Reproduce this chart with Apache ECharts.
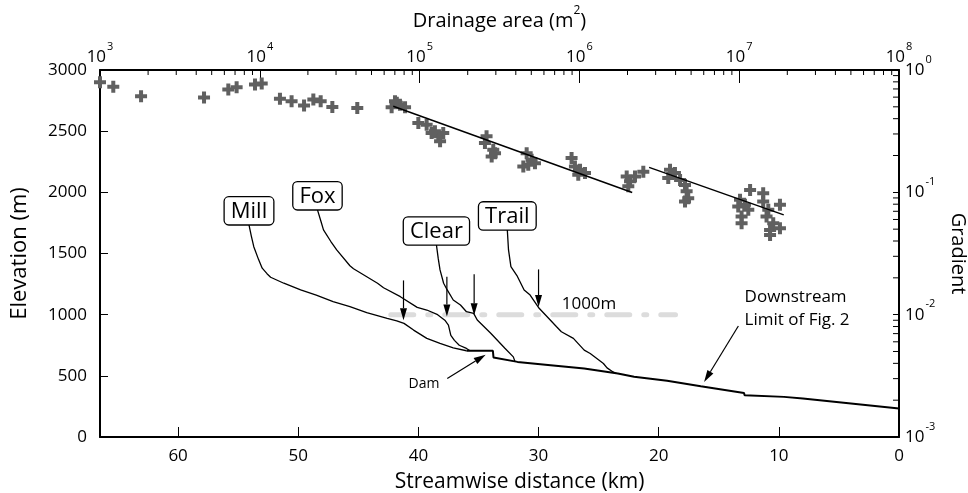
<!DOCTYPE html>
<html lang="en">
<head>
    <meta charset="UTF-8">
    <title>Profiles</title>
    <script type="text/javascript" src="https://cdn.jsdelivr.net/npm/echarts@6/dist/echarts.min.js"></script>
</head>
<body style="margin:0">
<div id="chart" style="width: 968px;height: 493px"></div>
</body>
<script type="text/javascript">

    // streamwise distance (km), elevation (m)
    var millProfile = [[54.1,1734],[53.9,1640],[53.7,1556],[53.3,1450],[53.0,1380],[52.6,1335],[52.3,1306],
        [51.2,1257],[49.8,1202],[48.5,1160],[47.1,1106],[45.7,1065],[44.3,1016],[42.6,970],[41.8,950],
        [41.2,929],[40.4,874],[39.3,806],[38.2,765],[37.1,729],[36.0,705]];
    var mainStem = [[36.0,705],[33.8,705],[33.75,650],[31.75,614],[29.0,587],[26.2,560],[23.4,519],
        [22.05,492],[19.3,459],[16.5,415],[12.9,360],[12.85,341],[9.57,328],[8.0,315],[7.95,326],
        [7.85,312],[4.0,274],[0,233]];
    var foxProfile = [[48.4,1857],[48.1,1760],[47.9,1693],[47.3,1600],[46.8,1529],[45.7,1400],[45.4,1375],
        [43.4,1257],[42.9,1220],[41.5,1147],[40.1,1060],[39.3,1038],[38.4,1000],[37.8,955],[37.5,915],
        [37.3,830],[37.0,790],[36.6,750],[36.0,724],[35.7,705]];
    var clearProfile = [[38.5,1570],[38.35,1460],[38.2,1366],[37.9,1257],[37.6,1202],[37.1,1120],
        [36.5,1079],[36.0,1024],[35.4,1011],[35.1,956],[34.0,850],[32.8,725],[32.1,655],[31.95,614]];
    var trailProfile = [[32.6,1693],[32.5,1529],[32.3,1393],[31.8,1320],[31.2,1202],[30.7,1160],
        [29.95,1052],[28.5,901],[28.1,860],[27.1,806],[26.2,710],[25.7,683],[24.6,601],[24.3,565],
        [23.8,532],[23.5,519]];
    var level1000 = [[42.3,1000],[18.6,1000]];

    // drainage area (m2), gradient
    var slopeArea = [[1000,0.794],[1211,0.728],[1807,0.610],[4477,0.596],[6353,0.692],[7161,0.723],
        [9333,0.760],[10280,0.774],[13370,0.581],[15810,0.555],[18920,0.512],[21630,0.573],[24040,0.555],
        [28440,0.499],[40740,0.490],[70150,0.555],[75340,0.521],[66830,0.495],[81100,0.495],[72000,0.54],
        [98200,0.369],[110700,0.357],[118900,0.305],[130900,0.287],[140600,0.305],[134300,0.261],[124700,0.315],
        [262400,0.287],[256400,0.253],[289100,0.223],[282500,0.196],[296500,0.209],
        [467700,0.209],[502300,0.185],[445700,0.163],[527200,0.173],[478600,0.168],
        [893300,0.191],[937600,0.163],[1009000,0.153],[1084000,0.144],[984000,0.139],
        [1977000,0.135],[2075000,0.123],[2023000,0.112],[2228000,0.135],[2512000,0.147],
        [3690000,0.153],[3963000,0.144],[3597000,0.131],[4266000,0.126],[4581000,0.115],[4688000,0.102],
        [4797000,0.0895],[4581000,0.0841],
        [10120000,0.0869],[9863000,0.0766],[10860000,0.0791],[11700000,0.1047],[11400000,0.0719],
        [10350000,0.0634],[10350000,0.0560],[14130000,0.0984],[14130000,0.0841],[15210000,0.0719],
        [14830000,0.0634],[16330000,0.0560],[15600000,0.0493],[17990000,0.0791],[17990000,0.0509],
        [15600000,0.0449]];
    var fitUpper = [[68400,0.505],[2140000,0.0996]];
    var fitLower = [[2730000,0.160],[19000000,0.0654]];

    // annotations: from km, from m, to km, to m
    var arrowLines = [[41.24,1280,41.24,955],[37.63,1310,37.63,985],[35.36,1330,35.36,995],
        [30.0,1370,30.0,1062],[37.6,478,34.4,673],[13.37,907,16.22,450]];

    var areaDecades = [1e3,1e4,1e5,1e6,1e7];
    var gradDecades = [1e-3,1e-2,1e-1];
    var minorSteps = [2,3,4,5,6,7,8,9];

    var FONT = 'Open Sans';
    var sup = {
        b: {fontSize: 17, fontFamily: FONT, color: '#000', lineHeight: 32},
        s: {fontSize: 11, fontFamily: FONT, color: '#000', verticalAlign: 'top', padding: [0,0,0,1]}
    };
    function powLabel(v){
        return '{b|10}{s|' + Math.round(Math.log10(v)) + '}';
    }

    var areaMinor = [], gradMinor = [];
    areaDecades.forEach(function(d){ minorSteps.forEach(function(k){ areaMinor.push([k*d, 1]); }); });
    gradDecades.forEach(function(d){ minorSteps.forEach(function(k){ gradMinor.push([1e8, k*d]); }); });

    function tickItem(dir){
        return function(params, api){
            var p = api.coord([api.value(0), api.value(1)]);
            var shape = dir === 'top'
                ? {x1: p[0], y1: p[1], x2: p[0], y2: p[1] + 5}
                : {x1: p[0], y1: p[1], x2: p[0] - 6, y2: p[1]};
            return {type: 'line', shape: shape, style: {stroke: '#000', lineWidth: 1}};
        };
    }

    function arrowItem(params, api){
        var p1 = api.coord([api.value(0), api.value(1)]);
        var p2 = api.coord([api.value(2), api.value(3)]);
        var dx = p2[0]-p1[0], dy = p2[1]-p1[1];
        var len = Math.sqrt(dx*dx + dy*dy), ux = dx/len, uy = dy/len;
        var hl = 12, hw = 3.5;
        var bx = p2[0]-ux*hl, by = p2[1]-uy*hl;
        return {type: 'group', children: [
            {type: 'line', shape: {x1: p1[0], y1: p1[1], x2: bx, y2: by}, style: {stroke: '#000', lineWidth: 1.2}},
            {type: 'polygon', shape: {points: [[p2[0],p2[1]],[bx-uy*hw, by+ux*hw],[bx+uy*hw, by-ux*hw]]},
                style: {fill: '#000'}}
        ]};
    }

    var names = [[millProfile,'Mill'],[foxProfile,'Fox'],[clearProfile,'Clear'],[trailProfile,'Trail']];
    var labelData = names.map(function(n){ return [n[0][0][0], n[0][0][1], n[1]]; });

    function profile(data, width){
        return {type: 'line', data: data, xAxisIndex: 0, yAxisIndex: 0, showSymbol: false, symbol: 'none',
            lineStyle: {color: '#000', width: width}, silent: true, z: 3};
    }

    var myChart = echarts.init(document.getElementById('chart'));
    var option = {
        animation: false,
        grid: {left: 100, right: 69, top: 70, bottom: 56, outerBoundsMode: 'none', containLabel: false},
        xAxis: [{
            type: 'value', position: 'bottom', inverse: true, min: 0, max: 66.5, interval: 10,
            name: 'Streamwise distance (km)', nameLocation: 'middle', nameGap: 35,
            nameTextStyle: {fontSize: 21, fontFamily: FONT, color: '#000', padding: [0, 0, 0, 40]},
            axisLine: {onZero: false, lineStyle: {color: '#000', width: 2}},
            axisTick: {inside: true, length: 10, lineStyle: {color: '#000', width: 1}},
            axisLabel: {fontSize: 17, fontFamily: FONT, color: '#000', margin: 11, showMaxLabel: false,
                formatter: function(v){ return String(v); }},
            splitLine: {show: false}
        }, {
            type: 'log', logBase: 10, position: 'top', min: 1e3, max: 1e8,
            name: '{t|Drainage area (m}{s|2}{t|)}', nameLocation: 'middle', nameGap: 33,
            nameTextStyle: {rich: {
                t: {fontSize: 20, fontFamily: FONT, color: '#000', lineHeight: 32},
                s: {fontSize: 12, fontFamily: FONT, color: '#000', verticalAlign: 'top'}
            }},
            axisLine: {onZero: false, lineStyle: {color: '#000', width: 2}},
            axisTick: {inside: true, length: 13, lineStyle: {color: '#000', width: 1}},
            axisLabel: {formatter: powLabel, rich: sup, margin: -3},
            splitLine: {show: false}
        }],
        yAxis: [{
            type: 'value', position: 'left', min: 0, max: 3000, interval: 500,
            name: 'Elevation (m)', nameLocation: 'middle', nameGap: 69,
            nameTextStyle: {fontSize: 22, fontFamily: FONT, color: '#000'},
            axisLine: {onZero: false, lineStyle: {color: '#000', width: 2}},
            axisTick: {inside: true, length: 8, lineStyle: {color: '#000', width: 1}},
            axisLabel: {fontSize: 17, fontFamily: FONT, color: '#000', margin: 13,
                formatter: function(v){ return String(v); }},
            splitLine: {show: false}
        }, {
            type: 'log', logBase: 10, position: 'right', min: 1e-3, max: 1,
            name: 'Gradient', nameLocation: 'middle', nameGap: 49, nameRotate: -90,
            nameTextStyle: {fontSize: 20, fontFamily: FONT, color: '#000'},
            axisLine: {onZero: false, lineStyle: {color: '#000', width: 2}},
            axisTick: {inside: true, length: 6, lineStyle: {color: '#000', width: 1}},
            axisLabel: {formatter: powLabel, rich: sup, margin: 6},
            splitLine: {show: false}
        }],
        series: [
            {type: 'line', data: level1000, xAxisIndex: 0, yAxisIndex: 0, symbol: 'none', silent: true, z: 2,
                lineStyle: {color: '#dcdcdc', width: 5, cap: 'round', type: [23, 14, 3, 14]}},
            profile(millProfile, 1.3),
            profile(foxProfile, 1.3),
            profile(clearProfile, 1.3),
            profile(trailProfile, 1.3),
            profile(mainStem, 2),
            {type: 'scatter', data: slopeArea, xAxisIndex: 1, yAxisIndex: 1, silent: true, z: 3,
                symbol: 'path://M4,0H8V4H12V8H8V12H4V8H0V4H4Z', symbolSize: 12,
                itemStyle: {color: '#606060', opacity: 1}},
            {type: 'line', data: fitUpper, xAxisIndex: 1, yAxisIndex: 1, symbol: 'none', silent: true, z: 4,
                lineStyle: {color: '#000', width: 1.5}},
            {type: 'line', data: fitLower, xAxisIndex: 1, yAxisIndex: 1, symbol: 'none', silent: true, z: 4,
                lineStyle: {color: '#000', width: 1.5}},
            {type: 'custom', data: arrowLines, xAxisIndex: 0, yAxisIndex: 0, renderItem: arrowItem,
                encode: {x: [0, 2], y: [1, 3]}, silent: true, z: 5},
            {type: 'scatter', data: labelData, xAxisIndex: 0, yAxisIndex: 0, symbolSize: 1, silent: true, z: 6,
                itemStyle: {color: 'rgba(0,0,0,0)'},
                label: {show: true, position: 'top', distance: 0, formatter: function(p){ return p.value[2]; },
                    fontSize: 22, fontFamily: FONT, color: '#000', opacity: 1, lineHeight: 23,
                    backgroundColor: '#fff', borderColor: '#000', borderWidth: 1.3, borderRadius: 4,
                    padding: [3, 6, 1, 6]}},
            {type: 'scatter', xAxisIndex: 0, yAxisIndex: 0, symbolSize: 1, silent: true, z: 6,
                itemStyle: {color: 'rgba(0,0,0,0)'},
                label: {show: true, position: 'inside', fontFamily: FONT, color: '#000', opacity: 1, fontSize: 17,
                    lineHeight: 23, formatter: function(p){ return p.value[2]; }},
                data: [
                    {value: [38.25, 432, 'Dam'], label: {align: 'right', fontSize: 14}},
                    {value: [25.8, 1090, '1000m'], label: {align: 'center'}},
                    {value: [12.85, 1050, 'Downstream\nLimit of Fig. 2'], label: {align: 'left'}}
                ]},
            {type: 'custom', data: areaMinor, xAxisIndex: 1, yAxisIndex: 1, renderItem: tickItem('top'),
                silent: true, z: 7},
            {type: 'custom', data: gradMinor, xAxisIndex: 1, yAxisIndex: 1, renderItem: tickItem('right'),
                silent: true, z: 7}
        ]
    };
    myChart.setOption(option, true);
</script>
</html>
